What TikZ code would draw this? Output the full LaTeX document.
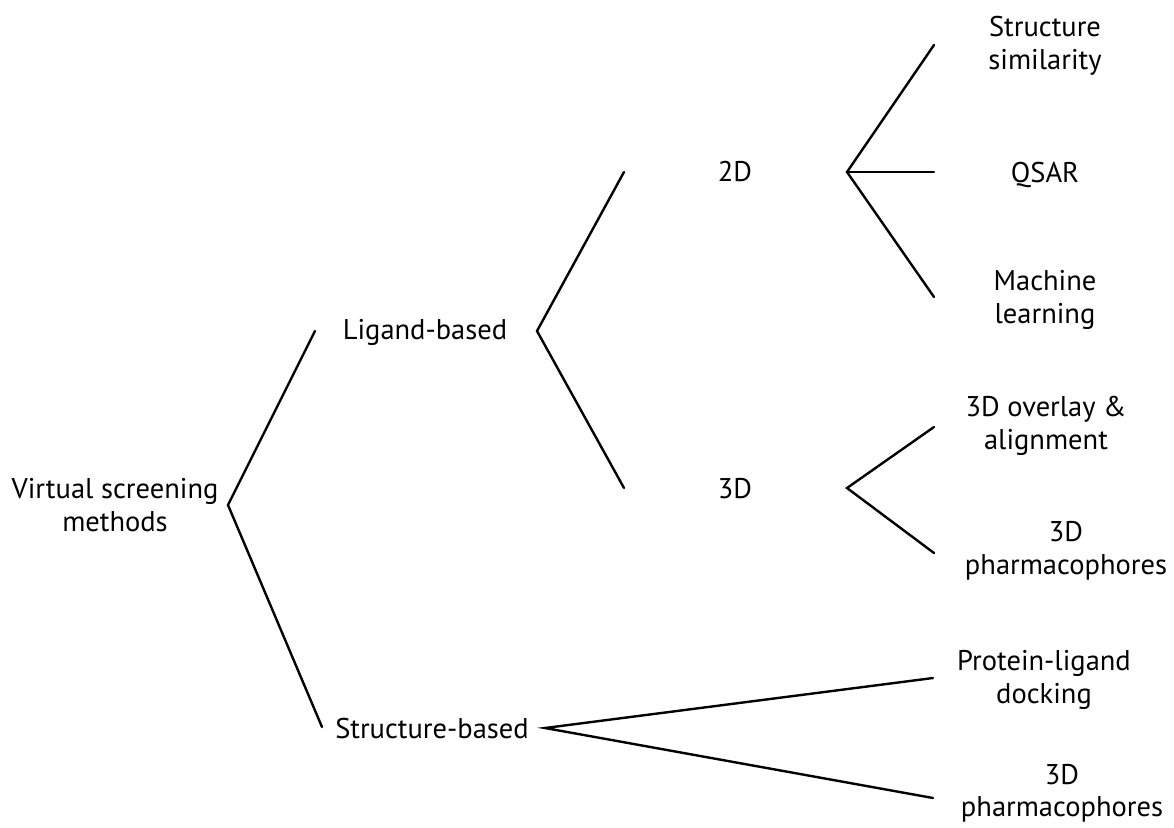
\documentclass[tikz,border=0pt]{standalone}
\usepackage{fontspec}
\setmainfont{PT Sans}
\begin{document}
\begin{tikzpicture}[x=1pt,y=-1pt,
  lbl/.style={font=\fontsize{28.5}{32.5}\selectfont, align=center, inner sep=0pt},
  br/.style={line width=2.4pt, line cap=round, line join=miter}]
\useasboundingbox (0,0) rectangle (1174,827);
% labels
\node[lbl] (root) at (115,505) {Virtual screening\\methods};
\node[lbl, anchor=base] (lig) at (425,339) {Ligand-based};
\node[lbl, anchor=base] (str) at (432,738) {Structure-based};
\node[lbl, anchor=base] (d2) at (735,181) {2D};
\node[lbl, anchor=base] (d3) at (735,498) {3D};
\node[lbl] (ss) at (1045,46) {Structure\\similarity};
\node[lbl, anchor=base] (qsar) at (1045,182) {QSAR};
\node[lbl] (ml) at (1045,300) {Machine\\learning};
\node[lbl] (ov) at (1046,426) {3D overlay \&\\alignment};
\node[lbl] (ph1) at (1066,551) {3D\\pharmacophores};
\node[lbl] (pl) at (1044,680) {Protein-ligand\\docking};
\node[lbl] (ph2) at (1062,793) {3D\\pharmacophores};
% branch points and ends
\coordinate (v0) at (228,505);
\coordinate (e01) at (315,331);
\coordinate (e02) at (322,727);
\coordinate (v1) at (537,331);
\coordinate (e11) at (624,172);
\coordinate (e12) at (624,488);
\coordinate (v2) at (847,172);
\coordinate (e21) at (934,45);
\coordinate (e22) at (934,172);
\coordinate (e23) at (934,297);
\coordinate (v3) at (847,488);
\coordinate (e31) at (934,427);
\coordinate (e32) at (934,553);
\coordinate (v4) at (545,728);
\coordinate (e41) at (933,678);
\coordinate (e42) at (933,798);
% connectors
\draw[br] (e01) -- (v0) -- (e02);
\draw[br] (e11) -- (v1) -- (e12);
\draw[br] (e21) -- (v2) -- (e23);
\draw[br] (v2) -- (e22);
\draw[br] (e31) -- (v3) -- (e32);
\draw[br] (e41) -- (v4) -- (e42);
\end{tikzpicture}
\end{document}
